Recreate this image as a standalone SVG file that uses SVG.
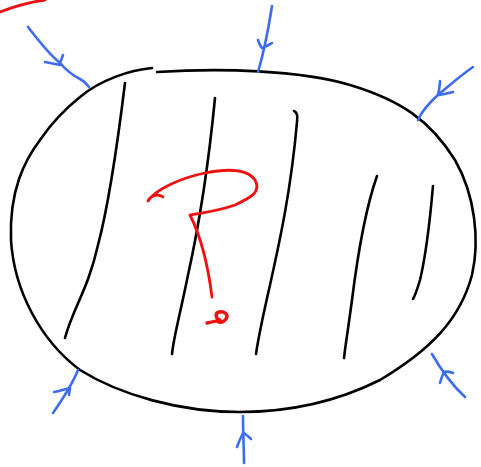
<svg xmlns="http://www.w3.org/2000/svg" width="481" height="467" viewBox="0 0 481 467">
<style>
path{fill:none;stroke-linecap:round;stroke-linejoin:round}
.k{stroke:#000;stroke-width:2.6}
.b{stroke:#3d6cf2;stroke-width:2.6}
.r{stroke:#f01010;stroke-width:2.8}
</style>
<rect width="481" height="467" fill="#fff"/>
<g id="blob">
<path class="k" d="M157,72 C220,68 300,70 350,85 C400,100 430,120 455,160 C475,195 480,240 472,275 C460,320 430,350 380,380 C330,405 280,412 240,412 C180,412 120,395 80,370 C40,340 14,290 11,240 C9,190 25,160 40,140 C55,118 70,105 80,97 C100,80 130,70 152,68"/>
</g>
<g id="stripes">
<path class="k" d="M125,83 C118,140 110,200 98,245 C88,290 72,310 65,338"/>
<path class="k" d="M215,98 C208,170 198,230 188,275 C180,315 174,335 172,354"/>
<path class="k" d="M294,111 C297,112 298,115 297,122 C291,190 280,240 270,285 C262,320 258,340 256,354"/>
<path class="k" d="M377,176 C365,210 357,260 352,300 C348,330 345,348 344,358"/>
<path class="k" d="M433,186 C430,220 426,255 420,280 C417,290 415,296 413,299"/>
</g>
<g id="question">
<path class="r" d="M163,197 C158,193 150,196 148,201 C155,190 180,178 205,173 C230,168 248,170 255,180 C262,192 250,198 235,205 C215,212 200,213 190,215 C200,235 208,265 212,297"/>
<path class="r" style="stroke-width:3.4" d="M207,323 C212,322 217,321 220,320 C215,318 215,313 219,312 C224,311 229,314 226,319 C223,323 219,323 217,321"/>
</g>
<g id="connectors">
<path class="r" d="M0,12 C15,6 30,2 45,0"/>
<path class="b" d="M28,27 C38,40 50,55 60,63 C66,70 72,75 80,79 C84,81 87,84 89,87"/>
<path class="b" d="M45,62 C50,63 55,64 60,65 M63,55 C62,58 61,61 59,65"/>
<path class="b" d="M272,6 C269,25 266,45 258,72"/>
<path class="b" d="M258,40 C259,43 260,46 262,48 M272,43 C269,45 266,46 263,48"/>
<path class="b" d="M473,67 C460,76 450,85 440,93 C430,102 422,110 418,120"/>
<path class="b" d="M440,81 C440,86 439,90 438,95 M453,92 C449,93 445,94 439,95"/>
<path class="b" d="M432,354 C440,368 452,385 465,397"/>
<path class="b" d="M453,373 C450,372 447,371 444,372 M440,383 C441,379 442,376 444,372"/>
<path class="b" d="M78,370 C72,385 62,400 53,413"/>
<path class="b" d="M54,392 C60,391 65,389 70,388 M69,395 C69,392 70,390 70,388"/>
<path class="b" d="M243,416 C243,432 244,450 244,463"/>
<path class="b" d="M237,447 C239,441 241,437 243,433 M251,439 C248,436 246,434 243,433"/>
</g>
</svg>
